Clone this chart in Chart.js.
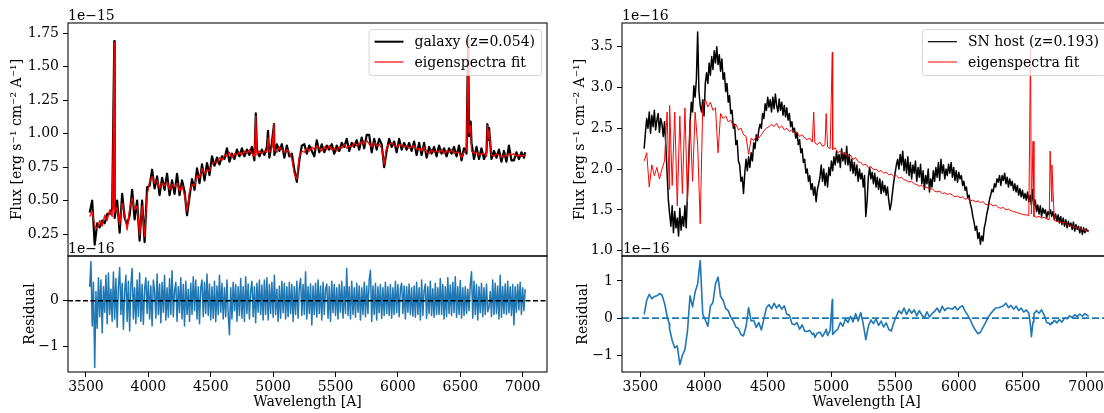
<!DOCTYPE html>
<html>
<head>
<meta charset="utf-8">
<script src="https://cdn.jsdelivr.net/npm/chart.js@4.4.1/dist/chart.umd.min.js"></script>
<style>
  html, body { margin: 0; padding: 0; background: #fff; }
  body { width: 1104px; height: 413px; overflow: hidden; position: relative; }
  canvas { position: absolute; }
</style>
</head>
<body>
<canvas id="galaxyTop" width="560" height="260" style="left:0;top:0"></canvas>
<canvas id="galaxyRes" width="560" height="173" style="left:0;top:240px"></canvas>
<canvas id="hostTop" width="560" height="260" style="left:560px;top:0"></canvas>
<canvas id="hostRes" width="560" height="173" style="left:560px;top:240px"></canvas>
<script>
// ---- wavelength grid (Angstrom, rest frame), with emission-line centres ----
const wave = [
  3530,3550,3570,3590,3610,3630,3650,3670,3690,3710,3727,
  3730,3750,3770,3790,3810,3830,3850,3870,3890,3910,
  3930,3950,3970,3990,4010,4030,4050,4070,4090,4110,
  4130,4150,4170,4190,4210,4230,4250,4270,4290,4310,
  4330,4350,4370,4390,4410,4430,4450,4470,4490,4510,
  4530,4550,4570,4590,4610,4630,4650,4670,4690,4710,
  4730,4750,4770,4790,4810,4830,4850,4861,4870,4890,4910,
  4930,4950,4959,4970,4990,5007,5010,5030,5050,5070,5090,5110,
  5130,5150,5170,5190,5210,5230,5250,5270,5290,5310,
  5330,5350,5370,5390,5410,5430,5450,5470,5490,5510,
  5530,5550,5570,5590,5610,5630,5650,5670,5690,5710,
  5730,5750,5770,5790,5810,5830,5850,5870,5890,5910,
  5930,5950,5970,5990,6010,6030,6050,6070,6090,6110,
  6130,6150,6170,6190,6210,6230,6250,6270,6290,6310,
  6330,6350,6370,6390,6410,6430,6450,6470,6490,6510,
  6530,6550,6563,6570,6583,6590,6610,6630,6650,6670,6690,6710,
  6717,6730,6731,6750,6770,6790,6810,6830,6850,6870,6890,6910,
  6930,6950,6970,6990,7010,7020
];
// finer 10 A grid for the noisier curves
const fineWave = [
  3530,3540,3550,3560,3570,3580,3590,3600,3610,3620,3630,3640,3650,3660,3670,3680,3690,3700,3710,3720,
  3730,3740,3750,3760,3770,3780,3790,3800,3810,3820,3830,3840,3850,3860,3870,3880,3890,3900,3910,3920,
  3930,3940,3950,3960,3970,3980,3990,4000,4010,4020,4030,4040,4050,4060,4070,4080,4090,4100,4110,4120,
  4130,4140,4150,4160,4170,4180,4190,4200,4210,4220,4230,4240,4250,4260,4270,4280,4290,4300,4310,4320,
  4330,4340,4350,4360,4370,4380,4390,4400,4410,4420,4430,4440,4450,4460,4470,4480,4490,4500,4510,4520,
  4530,4540,4550,4560,4570,4580,4590,4600,4610,4620,4630,4640,4650,4660,4670,4680,4690,4700,4710,4720,
  4730,4740,4750,4760,4770,4780,4790,4800,4810,4820,4830,4840,4850,4860,4870,4880,4890,4900,4910,4920,
  4930,4940,4950,4960,4970,4980,4990,5000,5010,5020,5030,5040,5050,5060,5070,5080,5090,5100,5110,5120,
  5130,5140,5150,5160,5170,5180,5190,5200,5210,5220,5230,5240,5250,5260,5270,5280,5290,5300,5310,5320,
  5330,5340,5350,5360,5370,5380,5390,5400,5410,5420,5430,5440,5450,5460,5470,5480,5490,5500,5510,5520,
  5530,5540,5550,5560,5570,5580,5590,5600,5610,5620,5630,5640,5650,5660,5670,5680,5690,5700,5710,5720,
  5730,5740,5750,5760,5770,5780,5790,5800,5810,5820,5830,5840,5850,5860,5870,5880,5890,5900,5910,5920,
  5930,5940,5950,5960,5970,5980,5990,6000,6010,6020,6030,6040,6050,6060,6070,6080,6090,6100,6110,6120,
  6130,6140,6150,6160,6170,6180,6190,6200,6210,6220,6230,6240,6250,6260,6270,6280,6290,6300,6310,6320,
  6330,6340,6350,6360,6370,6380,6390,6400,6410,6420,6430,6440,6450,6460,6470,6480,6490,6500,6510,6520,
  6530,6540,6550,6560,6570,6580,6590,6600,6610,6620,6630,6640,6650,6660,6670,6680,6690,6700,6710,6720,
  6730,6740,6750,6760,6770,6780,6790,6800,6810,6820,6830,6840,6850,6860,6870,6880,6890,6900,6910,6920,
  6930,6940,6950,6960,6970,6980,6990,7000,7010,7020
];

// ---- galaxy (z=0.054): flux in 1e-15 erg/s/cm2/A, on wave ----
const galaxyFlux = [
  0.41,0.50,0.17,0.33,0.30,0.35,0.33,0.40,0.40,0.44,1.69,
  0.37,0.50,0.26,0.55,0.37,0.32,0.39,0.58,0.36,0.50,
  0.20,0.50,0.19,0.60,0.61,0.73,0.59,0.68,0.54,0.67,
  0.58,0.70,0.54,0.65,0.55,0.70,0.54,0.65,0.57,0.39,
  0.53,0.66,0.58,0.74,0.63,0.77,0.65,0.78,0.69,0.83,
  0.76,0.82,0.77,0.83,0.81,0.89,0.79,0.85,0.81,0.88,
  0.83,0.89,0.83,0.88,0.84,0.90,0.80,1.15,0.88,0.83,0.88,
  0.84,0.90,1.02,0.82,0.93,1.07,0.84,0.92,0.87,0.92,0.82,0.91,
  0.83,0.85,0.73,0.64,0.80,0.91,0.92,0.85,0.91,0.87,
  0.83,0.95,0.86,0.92,0.86,0.91,0.88,0.92,0.85,0.91,
  0.87,0.93,0.90,0.96,0.87,0.93,0.90,0.95,0.88,0.97,
  0.89,0.99,0.99,0.86,0.96,0.88,0.96,0.92,0.75,0.87,
  0.96,0.90,0.94,0.86,0.96,0.88,0.93,0.88,0.93,0.87,
  0.94,0.84,0.93,0.84,0.93,0.82,0.90,0.85,0.90,0.83,
  0.91,0.85,0.89,0.83,0.89,0.85,0.90,0.83,0.91,0.80,
  0.89,0.85,1.72,0.98,1.09,0.93,0.81,0.90,0.81,0.89,0.81,0.86,
  1.07,0.95,1.04,0.81,0.87,0.82,0.88,0.79,0.87,0.79,0.91,0.80,
  0.80,0.86,0.81,0.86,0.82,0.86
];
const galaxyFit = [
  0.38,0.42,0.31,0.29,0.35,0.31,0.39,0.35,0.43,0.38,1.68,
  0.41,0.45,0.32,0.48,0.40,0.28,0.44,0.52,0.43,0.46,
  0.24,0.46,0.23,0.54,0.64,0.68,0.63,0.65,0.59,0.63,
  0.61,0.64,0.58,0.62,0.60,0.63,0.57,0.61,0.54,0.42,
  0.57,0.62,0.61,0.69,0.67,0.74,0.70,0.73,0.72,0.77,
  0.79,0.78,0.82,0.80,0.84,0.83,0.86,0.82,0.85,0.84,
  0.86,0.84,0.87,0.85,0.88,0.85,0.83,1.13,0.84,0.87,0.85,
  0.87,0.86,0.97,0.86,0.89,1.07,0.88,0.86,0.90,0.88,0.86,0.88,
  0.86,0.81,0.70,0.66,0.83,0.87,0.86,0.89,0.87,0.90,
  0.88,0.91,0.89,0.87,0.90,0.88,0.91,0.88,0.89,0.87,
  0.90,0.89,0.92,0.89,0.91,0.90,0.93,0.91,0.92,0.94,
  0.92,0.95,0.92,0.90,0.93,0.91,0.92,0.89,0.77,0.90,
  0.92,0.93,0.91,0.90,0.92,0.91,0.90,0.91,0.89,0.90,
  0.91,0.88,0.89,0.87,0.90,0.86,0.85,0.88,0.86,0.87,
  0.86,0.88,0.85,0.87,0.86,0.88,0.85,0.86,0.86,0.82,
  0.86,0.88,1.74,1.00,1.06,0.87,0.85,0.86,0.84,0.85,0.85,0.83,
  1.06,0.96,1.02,0.84,0.83,0.85,0.84,0.82,0.84,0.83,0.85,0.84,
  0.85,0.83,0.84,0.83,0.84,0.83
];
// residual in 1e-16, on fineWave
const galaxyResid = [
  0.30,0.85,-0.55,0.40,-1.45,0.20,-0.60,0.50,-0.35,0.45,-0.70,0.30,-0.25,0.55,-0.50,0.60,-0.30,0.25,-0.45,0.62,
  -0.40,0.48,-0.58,0.30,0.72,-0.30,0.38,-0.62,0.20,0.55,-0.45,0.42,-0.66,0.35,0.70,-0.40,0.28,-0.50,0.45,-0.35,
  0.60,-0.45,0.35,-0.52,0.25,0.50,-0.28,0.42,-0.40,0.32,-0.55,0.45,0.20,-0.38,0.58,-0.30,0.36,-0.48,0.40,-0.25,
  0.55,-0.42,0.28,-0.36,0.48,-0.30,0.65,-0.35,0.22,0.40,-0.45,0.30,-0.26,0.50,-0.40,0.35,-0.55,0.42,-0.30,0.25,
  -0.45,0.38,-0.30,0.52,-0.22,0.45,-0.40,0.30,-0.50,0.28,0.45,-0.35,0.40,-0.28,0.58,-0.32,0.36,-0.42,0.30,-0.38,
  0.42,-0.46,0.32,-0.30,0.55,-0.25,0.38,-0.40,0.28,-0.35,0.45,-0.30,-0.74,0.28,-0.40,0.40,-0.22,0.35,-0.45,0.30,
  -0.32,0.48,-0.38,0.30,-0.45,0.52,-0.28,0.36,-0.40,0.22,0.42,-0.35,0.30,-0.48,0.38,-0.25,0.45,-0.30,0.34,-0.42,
  0.45,-0.30,0.50,-0.42,0.35,-0.28,0.40,-0.36,0.55,-0.30,0.25,-0.45,0.32,-0.38,0.42,-0.26,0.38,-0.40,0.30,-0.35,
  0.40,-0.28,0.35,-0.45,0.30,-0.30,0.42,-0.38,0.28,0.48,-0.32,0.35,-0.30,0.63,-0.40,0.30,-0.28,0.36,-0.53,0.32,
  -0.30,0.38,-0.36,0.45,-0.28,0.32,-0.42,0.40,-0.30,0.25,0.36,-0.38,0.30,-0.45,0.42,-0.26,0.35,-0.32,0.28,-0.40,
  0.35,-0.25,0.42,-0.38,0.30,-0.28,0.70,-0.32,0.30,-0.40,0.42,-0.30,0.28,-0.36,0.38,-0.25,0.32,-0.42,0.28,-0.30,
  0.40,-0.35,0.32,-0.28,0.45,0.66,-0.45,0.32,-0.30,0.38,-0.42,0.30,-0.26,0.35,-0.38,0.28,-0.32,0.40,-0.28,0.30,
  -0.32,0.35,-0.38,0.28,-0.30,0.42,-0.26,0.35,-0.35,0.26,0.38,-0.28,0.32,-0.40,0.30,-0.25,0.36,-0.30,0.28,-0.34,
  0.32,-0.36,0.40,-0.30,0.28,-0.42,0.45,-0.32,0.22,0.36,-0.38,0.30,-0.28,0.42,-0.32,0.26,-0.36,0.38,-0.30,0.28,
  -0.30,0.48,-0.30,0.35,-0.40,0.30,-0.35,0.50,-0.28,0.34,-0.32,0.40,-0.26,0.52,-0.36,0.30,-0.30,0.44,-0.38,0.28,
  -0.32,0.30,-0.28,0.25,-0.22,0.35,0.63,-0.38,0.42,-0.30,0.35,-0.42,0.30,-0.26,0.38,-0.35,0.28,-0.30,0.36,-0.24,
  -0.15,0.20,-0.35,0.45,-0.30,0.38,-0.28,0.32,-0.40,0.55,-0.36,0.30,-0.28,0.36,-0.30,0.42,-0.26,0.30,-0.32,0.35,
  -0.53,0.30,-0.25,0.35,-0.20,0.40,-0.30,0.28,-0.22,0.25
];

// ---- SN host (z=0.193): flux in 1e-16 erg/s/cm2/A, on fineWave ----
const hostFlux = [
  2.25,2.45,2.62,2.50,2.70,2.44,2.66,2.52,2.72,2.48,2.60,2.68,2.45,2.62,2.55,2.40,2.58,2.30,1.95,1.62,
  1.45,1.30,1.55,1.22,1.48,1.28,1.40,1.18,1.52,1.25,1.42,1.30,1.55,1.28,1.70,2.10,2.55,2.82,2.70,3.02,
  2.88,3.10,3.68,2.95,2.78,2.70,2.85,2.65,3.05,3.18,3.05,3.30,3.15,3.38,3.22,3.45,3.30,3.50,3.28,3.40,
  3.20,3.35,3.10,3.18,2.95,3.05,2.82,2.90,2.68,2.72,2.50,2.55,2.30,2.35,2.10,2.05,1.85,1.90,1.70,1.95,
  2.12,1.98,2.15,2.02,2.20,2.10,2.32,2.25,2.42,2.35,2.48,2.55,2.50,2.68,2.62,2.80,2.72,2.88,2.76,2.85,
  2.70,2.88,2.74,2.92,2.78,2.70,2.86,2.72,2.82,2.66,2.78,2.64,2.75,2.60,2.68,2.52,2.58,2.45,2.50,2.38,
  2.45,2.30,2.36,2.20,2.25,2.08,2.12,1.95,2.00,1.85,1.92,1.75,1.82,1.68,1.78,1.60,1.75,1.82,1.90,2.05,
  1.85,2.00,1.80,1.95,1.78,2.02,1.92,2.10,1.98,2.15,2.05,2.22,2.08,2.18,2.02,2.25,2.10,2.20,2.06,2.28,
  2.05,2.18,1.98,2.12,1.95,2.08,1.92,2.05,1.85,2.00,1.88,1.95,1.78,1.92,1.42,1.60,1.90,2.02,1.88,1.96,
  1.82,1.95,1.78,1.90,1.75,1.88,1.70,1.85,1.72,1.80,1.68,1.78,1.62,1.50,1.58,1.72,1.85,1.95,2.05,2.12,
  2.00,2.18,2.05,2.22,1.98,2.12,1.95,2.15,1.92,2.08,1.88,2.05,1.95,2.10,1.85,2.02,1.90,2.06,1.82,1.98,
  1.75,1.92,1.82,2.00,1.72,1.88,1.78,1.98,1.85,2.02,1.90,2.08,1.86,2.12,1.95,2.05,1.88,2.00,1.92,2.06,
  1.95,2.08,1.90,2.02,1.86,1.98,1.84,1.96,1.88,1.92,1.80,1.85,1.74,1.78,1.65,1.68,1.58,1.52,1.42,1.35,
  1.25,1.30,1.15,1.22,1.08,1.18,1.12,1.28,1.35,1.45,1.52,1.62,1.68,1.75,1.72,1.82,1.78,1.88,1.84,1.92,
  1.80,1.92,1.86,1.95,1.82,1.90,1.78,1.88,1.80,1.85,1.74,1.82,1.72,1.80,1.68,1.76,1.66,1.74,1.64,1.70,
  1.62,1.72,1.60,1.68,1.56,1.75,1.55,1.62,1.48,1.56,1.45,1.55,1.42,1.52,1.46,1.50,1.40,1.48,1.44,1.50,
  1.42,1.48,1.38,1.45,1.36,1.44,1.34,1.42,1.32,1.40,1.30,1.38,1.28,1.36,1.30,1.34,1.26,1.35,1.24,1.32,
  1.26,1.30,1.22,1.29,1.20,1.28,1.22,1.27,1.24,1.25
];
// eigenspectra fit, on wave
const hostFit = [
  2.10,2.20,1.78,2.05,1.92,2.02,1.88,2.00,2.10,2.70,1.75,
  2.78,1.80,2.70,1.55,2.65,1.70,2.75,1.60,2.60,1.85,
  2.70,2.30,1.33,2.78,2.85,2.76,2.82,2.72,2.75,2.20,
  2.68,2.62,2.65,2.58,2.60,2.52,2.55,2.48,2.50,2.42,
  2.40,2.18,2.38,2.35,2.40,2.38,2.42,2.47,2.50,2.52,
  2.55,2.52,2.56,2.50,2.53,2.48,2.50,2.46,2.48,2.44,
  2.45,2.40,2.42,2.38,2.36,2.38,2.33,2.70,2.32,2.30,2.33,
  2.28,2.30,2.68,2.27,2.25,3.43,2.24,2.26,2.20,2.22,2.18,2.20,
  2.15,2.17,2.12,2.14,2.09,2.08,2.05,2.06,2.02,2.03,
  1.99,2.00,1.97,1.98,1.95,1.96,1.93,1.94,1.91,1.92,
  1.89,1.90,1.87,1.86,1.84,1.85,1.82,1.81,1.79,1.80,
  1.77,1.78,1.75,1.76,1.73,1.72,1.73,1.70,1.71,1.69,
  1.70,1.68,1.66,1.67,1.65,1.66,1.63,1.64,1.61,1.62,
  1.60,1.61,1.59,1.60,1.57,1.56,1.57,1.55,1.56,1.53,
  1.52,1.53,1.50,1.51,1.49,1.48,1.47,1.46,1.45,1.44,
  1.44,1.43,3.48,1.45,2.34,1.42,1.41,1.42,1.40,1.41,1.39,1.38,
  2.22,1.60,2.05,1.37,1.36,1.35,1.34,1.35,1.32,1.31,1.30,1.29,
  1.28,1.27,1.26,1.25,1.24,1.23
];
// residual in 1e-16, on wave
const hostResid = [
  0.10,0.48,0.64,0.52,0.58,0.60,0.66,0.62,0.40,0.05,-0.15,
  -0.30,-0.60,-0.80,-0.75,-1.25,-1.00,-0.85,-0.35,0.60,0.30,
  0.70,0.92,1.55,0.10,-0.05,-0.22,0.32,0.42,0.92,1.10,
  0.58,0.48,0.26,0.20,0.02,-0.08,-0.24,-0.28,-0.44,-0.48,
  -0.22,0.28,-0.08,-0.06,-0.25,-0.12,-0.32,-0.02,0.28,0.36,
  0.25,0.40,0.27,0.36,0.24,0.33,0.10,0.08,-0.15,-0.18,
  -0.12,-0.30,-0.18,-0.35,-0.36,-0.33,-0.44,-0.40,-0.52,-0.40,-0.38,
  -0.50,-0.38,-0.30,-0.47,-0.33,0.50,-0.44,-0.36,-0.30,-0.12,-0.22,-0.02,
  -0.12,0.05,-0.10,0.12,-0.08,0.15,-0.16,-0.58,-0.22,-0.05,
  -0.15,-0.02,-0.20,-0.08,-0.24,-0.13,-0.30,-0.35,-0.12,0.05,
  0.20,0.12,0.27,0.10,0.24,0.13,0.22,0.06,0.20,0.08,
  0.00,0.17,0.03,0.12,0.18,0.27,0.15,0.32,0.20,0.27,
  0.26,0.24,0.31,0.22,0.30,0.33,0.18,0.08,-0.05,-0.20,
  -0.32,-0.42,-0.38,-0.25,-0.12,0.02,0.12,0.20,0.27,0.28,
  0.30,0.33,0.40,0.28,0.34,0.24,0.32,0.20,0.27,0.16,
  0.22,0.13,-0.20,-0.50,-0.10,0.12,0.20,0.13,0.22,0.08,-0.12,-0.14,
  -0.18,-0.12,-0.15,-0.06,-0.13,-0.04,-0.11,0.00,-0.02,0.06,0.01,0.09,
  0.04,0.11,0.05,0.12,0.07,0.05
];

// ---- axis limits and ticks ----
const waveLimits = [3356, 7195];
const waveTicks = [3500, 4000, 4500, 5000, 5500, 6000, 6500, 7000];
const galaxyFluxLimits = [0.086, 1.825];
const galaxyFluxTicks = [0.25, 0.50, 0.75, 1.00, 1.25, 1.50, 1.75];
const galaxyFluxLabels = ['0.25', '0.50', '0.75', '1.00', '1.25', '1.50', '1.75'];
const galaxyResidLimits = [-1.55, 0.97];
const galaxyResidTicks = [-1, 0];
const galaxyResidLabels = ['\u22121', '0'];
const hostFluxLimits = [0.935, 3.79];
const hostFluxTicks = [1.0, 1.5, 2.0, 2.5, 3.0, 3.5];
const hostFluxLabels = ['1.0', '1.5', '2.0', '2.5', '3.0', '3.5'];
const hostResidLimits = [-1.45, 1.67];
const hostResidTicks = [-1, 0, 1];
const hostResidLabels = ['\u22121', '0', '1'];

const FONT = "'DejaVu Serif', serif";
const FS = 14;
Chart.defaults.font.family = FONT;
Chart.defaults.font.size = FS;
Chart.defaults.color = '#000';

function points(xs, values) {
  const n = Math.min(xs.length, values.length);
  const out = [];
  for (let i = 0; i < n; i++) out.push({ x: xs[i], y: values[i] });
  return out;
}

// order: lower numbers are painted last (on top)
function line(xs, values, color, width, order) {
  return {
    data: points(xs, values), borderColor: color, borderWidth: width, order: order,
    pointRadius: 0, tension: 0, fill: false,
    borderJoinStyle: 'round', borderCapStyle: 'butt'
  };
}

const tickGrid = { drawOnChartArea: false, drawTicks: true, tickLength: 5, tickColor: '#000', tickWidth: 1 };

function yAxis(limits, ticks, labels, width) {
  return {
    type: 'linear', position: 'left', min: limits[0], max: limits[1],
    afterBuildTicks: s => { s.ticks = ticks.map(v => ({ value: v })); },
    ticks: { autoSkip: false, padding: 4, color: '#000', font: { size: FS, family: FONT },
             callback: (v, i) => labels[i] },
    grid: tickGrid,
    border: { display: false },
    afterFit: s => { s.width = width; s.paddingTop = 0; s.paddingBottom = 0; }
  };
}

function xAxis(show) {
  return {
    type: 'linear', position: 'bottom', display: show,
    min: waveLimits[0], max: waveLimits[1],
    afterBuildTicks: s => { s.ticks = waveTicks.map(v => ({ value: v })); },
    ticks: { autoSkip: false, maxRotation: 0, padding: 2, color: '#000',
             font: { size: FS, family: FONT }, callback: v => String(v) },
    grid: tickGrid,
    border: { display: false },
    afterFit: s => {
      s.height = show ? 41 : 0;
      s.paddingLeft = 0; s.paddingRight = 0;
    }
  };
}

// axes frame on all four sides
const framePlugin = {
  id: 'frame',
  afterDraw(chart) {
    const a = chart.chartArea, ctx = chart.ctx;
    ctx.save();
    ctx.strokeStyle = '#000';
    ctx.lineWidth = 1.05;
    ctx.strokeRect(a.left, a.top, a.right - a.left, a.bottom - a.top);
    ctx.restore();
  }
};

// horizontal dashed reference line at zero
const zeroPlugin = {
  id: 'zeroLine',
  afterDatasetsDraw(chart, args, opts) {
    if (!opts || !opts.color) return;
    const a = chart.chartArea, ctx = chart.ctx;
    const y = chart.scales.y.getPixelForValue(0);
    ctx.save();
    ctx.strokeStyle = opts.color;
    ctx.lineWidth = opts.width;
    ctx.setLineDash(opts.dash);
    ctx.beginPath();
    ctx.moveTo(a.left, y);
    ctx.lineTo(a.right, y);
    ctx.stroke();
    ctx.restore();
  }
};

// framed legend in the upper right corner of the axes
const legendPlugin = {
  id: 'boxLegend',
  afterDatasetsDraw(chart, args, opts) {
    if (!opts || !opts.entries) return;
    const a = chart.chartArea, ctx = chart.ctx;
    ctx.save();
    ctx.font = FS + 'px ' + FONT;
    const tw = Math.max(...opts.entries.map(e => ctx.measureText(e.label).width));
    const w = 46 + tw + 6, h = 46;
    const x = a.right - 6 - w, y = a.top + 6;
    ctx.beginPath();
    ctx.roundRect(x + 0.5, y + 0.5, w, h, 3);
    ctx.fillStyle = 'rgba(255,255,255,0.8)';
    ctx.fill();
    ctx.strokeStyle = 'rgba(204,204,204,0.8)';
    ctx.lineWidth = 1;
    ctx.stroke();
    opts.entries.forEach((e, i) => {
      const ry = y + 12.7 + i * 20.3;
      ctx.beginPath();
      ctx.strokeStyle = e.color;
      ctx.lineWidth = e.width;
      ctx.moveTo(x + 6, ry);
      ctx.lineTo(x + 35, ry);
      ctx.stroke();
      ctx.fillStyle = '#000';
      ctx.textAlign = 'left';
      ctx.textBaseline = 'middle';
      ctx.fillText(e.label, x + 46, ry + 1);
    });
    ctx.restore();
  }
};

// axis titles and exponent labels
const textPlugin = {
  id: 'panelText',
  afterDraw(chart, args, opts) {
    if (!opts || !opts.items) return;
    const ctx = chart.ctx;
    opts.items.forEach(t => {
      ctx.save();
      ctx.font = FS + 'px ' + FONT;
      ctx.fillStyle = '#000';
      ctx.textAlign = t.align || 'left';
      ctx.textBaseline = t.baseline || 'alphabetic';
      ctx.translate(t.x, t.y);
      if (t.rotate) ctx.rotate(-Math.PI / 2);
      ctx.fillText(t.text, 0, 0);
      ctx.restore();
    });
  }
};

const fluxTitle = 'Flux [erg s\u207B\u00B9 cm\u207B\u00B2 A\u207B\u00B9]';

function makeChart(id, cfg) {
  return new Chart(document.getElementById(id), {
    type: 'line',
    data: { datasets: cfg.datasets },
    plugins: [framePlugin, zeroPlugin, legendPlugin, textPlugin],
    options: {
      responsive: false, animation: false, devicePixelRatio: 1, events: [],
      layout: { padding: cfg.padding },
      scales: { x: xAxis(cfg.showX), y: cfg.y },
      plugins: {
        legend: { display: false }, tooltip: { enabled: false },
        zeroLine: cfg.zero || {},
        boxLegend: cfg.legend || {},
        panelText: { items: cfg.texts }
      }
    }
  });
}

// left column: nearby galaxy
makeChart('galaxyTop', {
  datasets: [line(wave, galaxyFlux, '#000000', 2.2, 2), line(wave, galaxyFit, '#ff0000', 1.3, 1)],
  showX: false,
  y: yAxis(galaxyFluxLimits, galaxyFluxTicks, galaxyFluxLabels, 68),
  padding: { left: 0, top: 23, right: 13, bottom: 4 },
  legend: { entries: [
    { label: 'galaxy (z=0.054)', color: '#000000', width: 2 },
    { label: 'eigenspectra fit', color: '#ff0000', width: 1.2 }
  ] },
  texts: [
    { text: '1e\u221215', x: 68, y: 20 },
    { text: fluxTitle, x: 17, y: 139.5, rotate: true, align: 'center', baseline: 'middle' }
  ]
});
makeChart('galaxyRes', {
  datasets: [line(fineWave, galaxyResid, '#1f77b4', 1.5, 1)],
  showX: true,
  y: yAxis(galaxyResidLimits, galaxyResidTicks, galaxyResidLabels, 68),
  padding: { left: 0, top: 16, right: 13, bottom: 0 },
  zero: { color: '#000000', width: 1.5, dash: [5, 2.5] },
  texts: [
    { text: '1e\u221216', x: 68, y: 13 },
    { text: 'Residual', x: 30, y: 74, rotate: true, align: 'center', baseline: 'middle' },
    { text: 'Wavelength [A]', x: 307.5, y: 162.5, align: 'center', baseline: 'middle' }
  ]
});

// right column: supernova host
makeChart('hostTop', {
  datasets: [line(fineWave, hostFlux, '#000000', 1.5, 2), line(wave, hostFit, '#ff0000', 1, 1)],
  showX: false,
  y: yAxis(hostFluxLimits, hostFluxTicks, hostFluxLabels, 62),
  padding: { left: 0, top: 23, right: 9, bottom: 4 },
  legend: { entries: [
    { label: 'SN host (z=0.193)', color: '#000000', width: 1.2 },
    { label: 'eigenspectra fit', color: '#ff0000', width: 1 }
  ] },
  texts: [
    { text: '1e\u221216', x: 62, y: 20 },
    { text: fluxTitle, x: 20, y: 139.5, rotate: true, align: 'center', baseline: 'middle' }
  ]
});
makeChart('hostRes', {
  datasets: [line(wave, hostResid, '#1f77b4', 1.6, 1)],
  showX: true,
  y: yAxis(hostResidLimits, hostResidTicks, hostResidLabels, 62),
  padding: { left: 0, top: 16, right: 9, bottom: 0 },
  zero: { color: '#1f77b4', width: 1.6, dash: [7, 3] },
  texts: [
    { text: '1e\u221216', x: 63, y: 13 },
    { text: 'Residual', x: 23.5, y: 74, rotate: true, align: 'center', baseline: 'middle' },
    { text: 'Wavelength [A]', x: 306.5, y: 162.5, align: 'center', baseline: 'middle' }
  ]
});
</script>
</body>
</html>
